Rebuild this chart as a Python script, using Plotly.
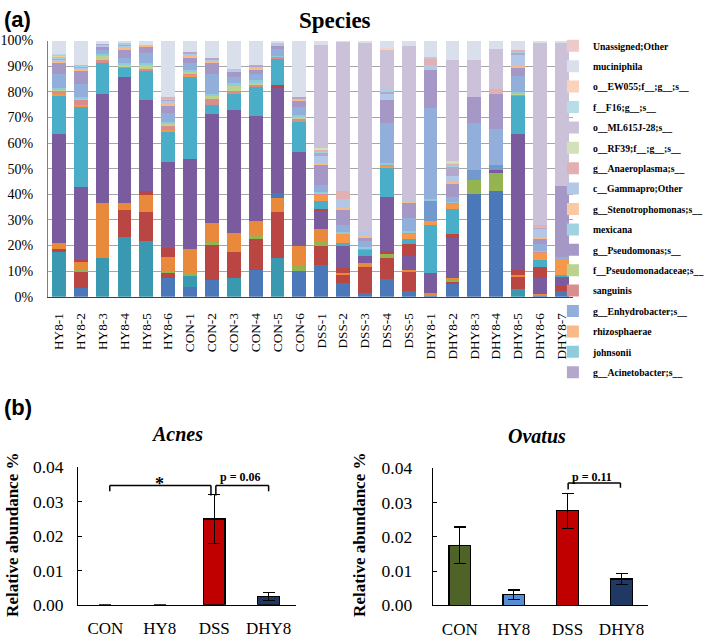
import plotly.graph_objects as go

W, H = 709, 641
SERIF = "'Liberation Serif', 'Times New Roman', Tinos, 'DejaVu Serif', serif"
SANS = "'Liberation Sans', Arial, 'DejaVu Sans', sans-serif"

# ---------------- (a) stacked species composition ----------------
samples = ["HY8-1", "HY8-2", "HY8-3", "HY8-4", "HY8-5", "HY8-6",
           "CON-1", "CON-2", "CON-3", "CON-4", "CON-5", "CON-6",
           "DSS-1", "DSS-2", "DSS-3", "DSS-4", "DSS-5",
           "DHY8-1", "DHY8-2", "DHY8-3", "DHY8-4", "DHY8-5", "DHY8-6", "DHY8-7"]

# series (bottom -> top of stack); empty name = entry not visible in the (cut) legend
series_names = ["", "", "", "", "", "", "", "", "", "", "", "",
                "sanguinis", "f__Pseudomonadaceae;s__", "johnsonii", "g__Enhydrobacter;s__",
                "g__Pseudomonas;s__", "rhizosphaerae", "c__Gammapro;Other", "g__Acinetobacter;s__",
                "mexicana", "g__Anaeroplasma;s__", "g__Stenotrophomonas;s__", "o__RF39;f__;g__;s__",
                "o__ML615J-28;s__", "f__F16;g__;s__", "o__EW055;f__;g__;s__", "muciniphila",
                "Unassigned;Other"]
series_colors = ["#4A78B8", "#3A98B0", "#BA4643", "#93B451", "#E8893B", "#4A78B8",
                 "#BA4643", "#7A5C9E", "#BA4643", "#4BAEC8", "#F6974A", "#7398CE",
                 "#D88E8C", "#BCD28E", "#8FCBDB", "#92AEDA", "#A597C6", "#F8BB88",
                 "#B3C8E6", "#B4A7CC", "#9FD3E0", "#E3B0B1", "#F9C9A3", "#D2E1B8",
                 "#CBC2DA", "#B9DDE8", "#FAD3BA", "#D9DFEB", "#EEC9C9"]
legend_order = ["Unassigned;Other", "muciniphila", "o__EW055;f__;g__;s__", "f__F16;g__;s__",
                "o__ML615J-28;s__", "o__RF39;f__;g__;s__", "g__Anaeroplasma;s__",
                "c__Gammapro;Other", "g__Stenotrophomonas;s__", "mexicana", "g__Pseudomonas;s__",
                "f__Pseudomonadaceae;s__", "sanguinis", "g__Enhydrobacter;s__", "rhizosphaerae",
                "johnsonii", "g__Acinetobacter;s__"]

# relative abundance (%) of each series, one list per sample (same order as series_names)
hy8_1 = [0, 17.6, 1.2, 0, 2.0, 0, 0, 42.7, 0, 15.3, 0.3, 0, 1.4, 0.4, 0.6, 5.5, 4.5, 0.3, 1.0, 0.5, 0.4, 0.3, 0.2, 0.2, 0.3, 0.2, 0, 5.1, 0]
hy8_2 = [3.3, 0, 6.8, 0.4, 3.1, 0, 0.9, 28.3, 0, 31.6, 0.3, 0, 2.4, 0.4, 0.5, 5.0, 5.3, 0.3, 1.0, 0.4, 0.3, 0.2, 0, 0, 0, 0, 0, 9.5, 0]
hy8_3 = [0, 15.1, 0, 0, 21.4, 0, 0, 42.6, 0, 12.3, 0, 0, 1.0, 2.1, 0.3, 1.5, 1.5, 0.2, 0.5, 0.3, 0, 0, 0, 0, 0, 0, 0, 1.2, 0]
hy8_4 = [0, 23.3, 10.5, 0, 2.9, 0, 0, 49.0, 0, 3.5, 0, 0, 1.0, 0.6, 0.5, 2.0, 3.5, 0.3, 1.2, 0.5, 0.3, 0, 0, 0, 0, 0, 0, 0.9, 0]
hy8_5 = [0, 21.8, 11.3, 0, 6.6, 0, 1.6, 35.3, 0, 11.4, 0, 0, 1.0, 1.8, 0.4, 4.0, 2.8, 0.3, 0, 0, 0, 0, 0, 0, 0, 0, 0, 1.7, 0]
hy8_6 = [7.5, 0, 2.1, 0.5, 5.4, 0, 3.4, 33.8, 0, 12.0, 0.4, 0, 1.6, 0.8, 0.8, 3.5, 3.0, 0.4, 1.5, 0.6, 0.4, 0.4, 0, 0, 0, 0, 0, 21.9, 0]
con_1 = [3.8, 4.8, 0, 0.6, 9.5, 0, 0, 35.0, 0, 32.3, 0.5, 0, 1.0, 0.6, 0.5, 2.6, 2.4, 0.3, 1.2, 0.4, 0, 0, 0, 0, 0, 0, 0, 4.5, 0]
con_2 = [6.7, 0, 13.5, 1.2, 7.3, 0, 0, 42.6, 0, 3.4, 0, 0, 2.5, 1.0, 0.8, 8.0, 4.5, 0.3, 1.0, 0.4, 0, 0, 0, 0, 0, 0, 0, 6.8, 0]
con_3 = [0, 7.5, 10.0, 0, 7.5, 0, 0, 48.0, 0, 6.0, 0, 0, 1.3, 2.5, 0.5, 2.5, 2.2, 0.3, 0.5, 0, 0, 0, 0, 0, 0, 0, 0, 11.2, 0]
con_4 = [10.6, 0, 11.9, 1.6, 5.3, 0, 0, 41.2, 0, 11.3, 0, 0, 0.8, 1.2, 0.5, 2.5, 2.0, 0.3, 0.8, 0.4, 0, 0, 0, 0, 0, 0, 0, 9.6, 0]
con_5 = [0, 15.0, 18.1, 0, 5.3, 2.2, 0, 41.4, 0.5, 10.6, 0, 0, 0.7, 0, 0.3, 2.5, 1.5, 0.2, 0.8, 0, 0, 0, 0, 0, 0, 0, 0, 0.9, 0]
con_6 = [10.0, 0, 0, 1.9, 8.1, 0, 0, 36.3, 0, 11.8, 0, 0, 1.2, 1.2, 0.6, 3.0, 2.8, 0.3, 0.5, 0.4, 0, 0, 0, 0, 0, 0, 0, 21.9, 0]
dss_1 = [12.5, 0, 7.5, 1.9, 4.4, 0, 0, 7.2, 0.9, 3.1, 2.5, 0, 0.4, 0.3, 0.3, 2.8, 8.1, 0.3, 2.8, 1.5, 0.5, 0.5, 0.3, 0.3, 40.0, 0, 0, 1.9, 0]
dss_2 = [5.4, 0, 2.9, 0, 1.0, 0, 1.9, 8.5, 0, 1.3, 3.7, 0, 0.3, 0, 0.3, 2.7, 6.4, 0.3, 3.5, 0, 0, 3.1, 0, 0, 58.4, 0, 0, 0.3, 0]
dss_3 = [1.3, 0, 10.4, 0, 1.3, 0, 0, 3.1, 0, 2.6, 0, 0, 0.3, 0, 0.3, 2.5, 1.5, 0.3, 2.0, 0, 0, 0, 0, 0, 73.7, 0, 0, 0.7, 0]
dss_4 = [6.9, 0, 8.2, 1.7, 0, 0, 1.2, 20.8, 0, 11.3, 1.3, 0, 0.4, 0, 0.5, 15.5, 8.8, 0, 3.0, 0.5, 0.9, 0, 0, 0, 15.8, 0, 0.3, 2.9, 0]
dss_5 = [2.3, 0, 7.4, 0, 0.8, 0, 0, 5.6, 4.3, 2.2, 2.4, 0, 0.3, 0, 0.3, 5.0, 6.4, 0.3, 0.9, 0, 0, 0, 0, 0, 59.8, 0, 0, 2.0, 0]
dhy8_1 = [0.8, 0, 0, 0, 0.5, 0, 0, 7.9, 0, 18.9, 1.3, 8.2, 0, 0, 0.4, 35.5, 15.1, 0, 1.9, 0, 0, 2.6, 0, 0, 0.5, 0, 0, 6.4, 0]
dhy8_2 = [5.0, 0, 1.0, 0.4, 0.9, 0, 0, 15.7, 1.3, 10.1, 2.1, 0, 0.3, 0, 0.3, 2.0, 5.4, 0.3, 2.2, 3.5, 1.0, 0.5, 0.5, 0.5, 39.4, 0, 0, 7.6, 0]
dhy8_3 = [40.0, 0, 0, 5.7, 0, 0, 0, 0, 0, 0, 0, 3.8, 0, 0, 0, 18.3, 10.1, 0, 0, 0, 0, 0, 0, 0, 14.5, 0, 0, 7.6, 0]
dhy8_4 = [41.3, 0, 0, 7.0, 0, 0, 0, 1.2, 0, 0, 0, 1.9, 0, 0, 0, 13.9, 13.8, 0, 0, 0, 0, 1.9, 0, 0, 15.8, 0, 0, 3.2, 0]
dhy8_5 = [0, 2.9, 5.1, 0, 0.6, 0, 1.9, 52.9, 0, 15.1, 0, 0, 0.8, 0.3, 0.4, 6.0, 3.5, 0.5, 4.5, 1.0, 0.4, 0.3, 0, 0, 0, 0, 0, 3.8, 0]
dhy8_6 = [0.5, 0, 0, 0, 0.5, 0, 0, 6.3, 4.4, 2.5, 3.2, 0, 0.3, 0, 0.3, 2.5, 2.5, 0.3, 3.0, 1.0, 0.4, 0.4, 0, 0, 71.2, 0, 0, 0.7, 0]
dhy8_7 = [2.3, 0, 1.8, 0, 0, 0, 0, 3.6, 0, 0.9, 5.6, 0, 0, 0, 0, 1.3, 27.7, 0, 0, 0, 0, 0, 0, 0, 56.1, 0, 0, 0.7, 0]

sample_values = [hy8_1, hy8_2, hy8_3, hy8_4, hy8_5, hy8_6,
                 con_1, con_2, con_3, con_4, con_5, con_6,
                 dss_1, dss_2, dss_3, dss_4, dss_5,
                 dhy8_1, dhy8_2, dhy8_3, dhy8_4, dhy8_5, dhy8_6, dhy8_7]

# ---------------- (b) group means ----------------
groups = ["CON", "HY8", "DSS", "DHY8"]
group_colors = ["#4F6228", "#558ED5", "#C00000", "#1F3864"]
acnes_mean = [0.0, 0.0, 0.0250, 0.0024]
acnes_err = [0.0, 0.0, 0.0071, 0.0012]
ovatus_mean = [0.0175, 0.0031, 0.0276, 0.0077]
ovatus_err = [0.0053, 0.0014, 0.0051, 0.0016]


def fx(p):
    return p / W


def fy(p):
    return 1 - p / H


fig = go.Figure()

for k, (nm, col) in enumerate(zip(series_names, series_colors)):
    vals = [sv[k] for sv in sample_values]
    named = nm != ""
    fig.add_trace(go.Bar(
        x=samples, y=vals, name=nm if named else "series %d" % (k + 1),
        marker=dict(color=col, line=dict(width=0)),
        showlegend=named,
        legendgroup=nm if named else "g%d" % k,
        legendrank=(legend_order.index(nm) + 1) if named else 1000,
        xaxis="x", yaxis="y", hoverinfo="skip"))

bar_w = 0.40
outline_a = [1.3 if v > 0 else 0 for v in acnes_mean]
fig.add_trace(go.Bar(
    x=groups, y=acnes_mean, xaxis="x2", yaxis="y2", width=bar_w, showlegend=False,
    marker=dict(color=group_colors, line=dict(color="black", width=outline_a)),
    error_y=dict(type="data", array=acnes_err, color="black", thickness=1.4, width=6),
    hoverinfo="skip"))
fig.add_trace(go.Bar(
    x=groups, y=ovatus_mean, xaxis="x3", yaxis="y3", width=bar_w, showlegend=False,
    marker=dict(color=group_colors, line=dict(color="black", width=1.3)),
    error_y=dict(type="data", array=ovatus_err, color="black", thickness=1.4, width=6),
    hoverinfo="skip"))

serif_ax = dict(family=SERIF, color="black")

fig.update_layout(
    width=W, height=H, margin=dict(l=0, r=0, t=0, b=0), autosize=False,
    paper_bgcolor="white", plot_bgcolor="white",
    barmode="stack", bargap=0.37,
    showlegend=True,
    legend=dict(x=fx(562), y=fy(22), xanchor="left", yanchor="top",
                traceorder="grouped", tracegroupgap=1.4,
                font=dict(family=SERIF, size=9.7, color="black", weight="bold"),
                bgcolor="rgba(0,0,0,0)", itemclick=False, itemdoubleclick=False),
    xaxis=dict(domain=[fx(46.8), fx(582.2)], anchor="y", type="category",
               tickangle=-90, tickfont=dict(size=13.3, **serif_ax),
               showline=True, linecolor="#404040", linewidth=1, ticks="",
               ticklabelstandoff=10, showgrid=False, fixedrange=True),
    yaxis=dict(domain=[fy(296), fy(31.5)], anchor="x", range=[0, 100], dtick=10,
               ticksuffix="%", tickfont=dict(size=14, **serif_ax),
               showgrid=True, gridcolor="#A6A6A6", gridwidth=1,
               showline=True, linecolor="#7F7F7F", linewidth=1, ticks="",
               ticklabelstandoff=11, zeroline=False, fixedrange=True),
    xaxis2=dict(domain=[fx(77.75), fx(299.75)], anchor="y2", type="category",
                tickfont=dict(size=17, **serif_ax), showline=True, linecolor="black",
                linewidth=1.3, ticks="", ticklabelstandoff=8, showgrid=False, fixedrange=True),
    yaxis2=dict(domain=[fy(614), fy(472)], anchor="x2", range=[0, 0.04], dtick=0.01,
                tickformat=".2f", tickfont=dict(size=17.5, **serif_ax),
                showline=True, linecolor="black", linewidth=1.3, ticks="inside",
                ticklen=4, tickcolor="black", showgrid=False, zeroline=False,
                ticklabelstandoff=10, fixedrange=True),
    xaxis3=dict(domain=[fx(439.5), fx(659.5)], anchor="y3", type="category",
                tickfont=dict(size=17, **serif_ax), showline=True, linecolor="black",
                linewidth=1.3, ticks="", ticklabelstandoff=8, showgrid=False, fixedrange=True),
    yaxis3=dict(domain=[fy(614.5), fy(473)], anchor="x3", range=[0, 0.04], dtick=0.01,
                tickformat=".2f", tickfont=dict(size=17.5, **serif_ax),
                showline=True, linecolor="black", linewidth=1.3, ticks="inside",
                ticklen=4, tickcolor="black", showgrid=False, zeroline=False,
                ticklabelstandoff=16, fixedrange=True),
)

ann = []
ann.append(dict(text="<b>(a)</b>", x=fx(0), y=fy(10), xref="paper", yref="paper",
                xanchor="left", yanchor="middle", showarrow=False,
                font=dict(family=SANS, size=22, color="black")))
ann.append(dict(text="<b>Species</b>", x=fx(340), y=fy(11), xref="paper", yref="paper",
                xanchor="center", yanchor="middle", showarrow=False,
                font=dict(family=SERIF, size=23, color="black")))
ann.append(dict(text="<b>(b)</b>", x=fx(0), y=fy(410), xref="paper", yref="paper",
                xanchor="left", yanchor="middle", showarrow=False,
                font=dict(family=SANS, size=22, color="black")))
ann.append(dict(text="<b><i>Acnes</i></b>", x=fx(179), y=fy(438), xref="paper", yref="paper",
                xanchor="center", yanchor="middle", showarrow=False,
                font=dict(family=SERIF, size=20, color="black")))
ann.append(dict(text="<b><i>Ovatus</i></b>", x=fx(546), y=fy(440), xref="paper", yref="paper",
                xanchor="center", yanchor="middle", showarrow=False,
                font=dict(family=SERIF, size=20, color="black")))
for xc in (10, 364):
    ann.append(dict(text="<b>Relative abundance %</b>", x=fx(xc), y=fy(542), xref="paper",
                    yref="paper", xanchor="center", yanchor="middle", textangle=-90,
                    showarrow=False, font=dict(family=SERIF, size=17, color="black")))

# significance marks
ann.append(dict(text="<b>*</b>", x=1.0, y=0.0352, xref="x2", yref="y2", xanchor="center",
                yanchor="middle", showarrow=False, font=dict(family=SERIF, size=18, color="black")))
ann.append(dict(text="<b>p = 0.06</b>", x=2.48, y=0.0372, xref="x2", yref="y2", xanchor="center",
                yanchor="middle", showarrow=False, font=dict(family=SERIF, size=12, color="black")))
ann.append(dict(text="<b>p = 0.11</b>", x=2.45, y=0.0375, xref="x3", yref="y3", xanchor="center",
                yanchor="middle", showarrow=False, font=dict(family=SERIF, size=12, color="black")))
fig.update_layout(annotations=ann)

line_style = dict(color="black", width=1.5)


def bracket(xr, yr, xa, xb, ya_end, yb_end, yh):
    return [
        dict(type="line", xref=xr, yref=yr, x0=xa, x1=xa, y0=ya_end, y1=yh, line=line_style),
        dict(type="line", xref=xr, yref=yr, x0=xa, x1=xb, y0=yh, y1=yh, line=line_style),
        dict(type="line", xref=xr, yref=yr, x0=xb, x1=xb, y0=yh, y1=yb_end, line=line_style),
    ]


shapes = []
shapes += bracket("x2", "y2", 0.08, 1.94, 0.0330, 0.0318, 0.0347)
shapes += bracket("x2", "y2", 2.03, 3.0, 0.0318, 0.0330, 0.0347)
shapes += bracket("x3", "y3", 2.01, 2.98, 0.0338, 0.0343, 0.0357)
fig.update_layout(shapes=shapes)

fig.write_html("out.html", config={"displayModeBar": False, "responsive": False},
               post_script="document.body.style.margin='0';"
                           "document.body.style.overflow='hidden';"
                           "document.documentElement.style.overflow='hidden';")
